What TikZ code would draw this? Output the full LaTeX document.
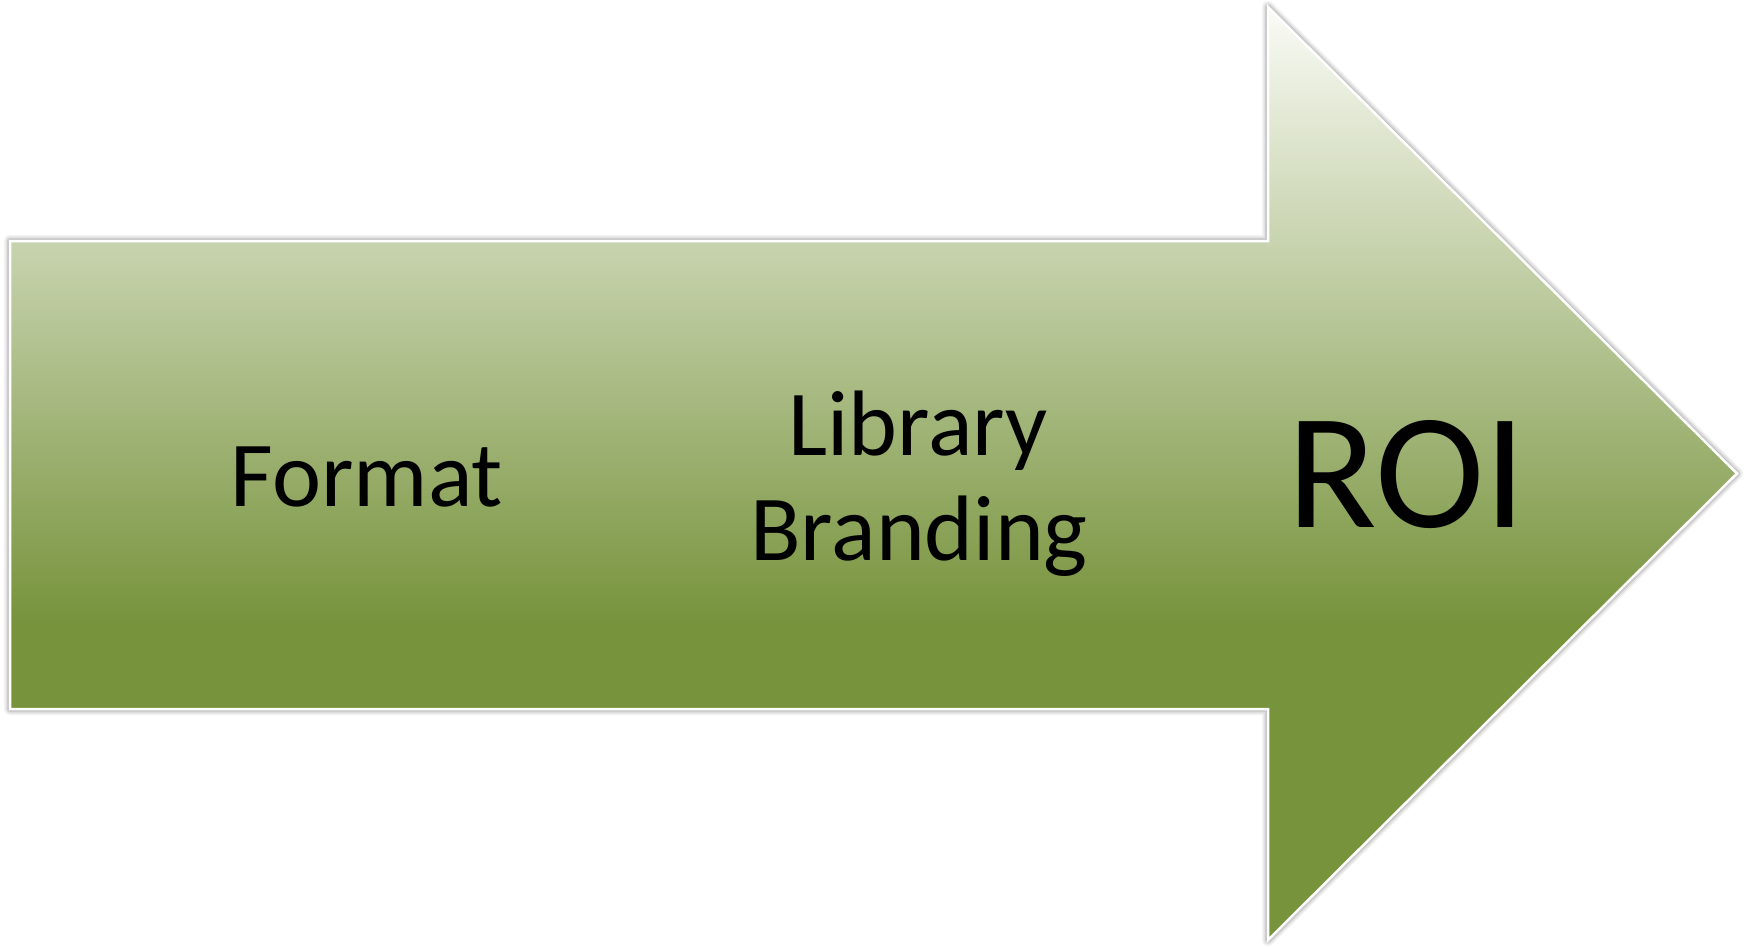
\documentclass[tikz,border=0pt]{standalone}
\usepackage{fontspec}
\setmainfont{Carlito}
\definecolor{olv}{RGB}{119,147,60}
\definecolor{toplt}{RGB}{250,251,246}
\pgfdeclareverticalshading{arrowshade}{100bp}{color(0bp)=(olv); color(42bp)=(olv); color(75bp)=(toplt); color(100bp)=(toplt)}
\begin{document}
\begin{tikzpicture}[x=1pt,y=-1pt,
  lbl/.style={font=\fontsize{93}{105}\selectfont, inner sep=0pt, text=black},
  biglbl/.style={font=\fontsize{165}{165}\selectfont, inner sep=0pt, text=black}]
\useasboundingbox (0,0) rectangle (1750,947);
\coordinate (A) at (10,241);
\coordinate (B) at (1268,241);
\coordinate (C) at (1268,7);
\coordinate (D) at (1737,473.5);
\coordinate (E) at (1268,940);
\coordinate (F) at (1268,709);
\coordinate (G) at (10,709);
% shadow
\foreach \w/\o in {12/0.05, 9/0.07, 6/0.09, 3/0.14}{
  \draw[line width=\w pt, black, opacity=\o, line join=round, shift={(1,4)}]
    (A) -- (B) -- (C) -- (D) -- (E) -- (F) -- (G) -- cycle;
}
% arrow body
\shade[shading=arrowshade, draw=white, line width=2.5pt, line join=miter]
  (A) -- (B) -- (C) -- (D) -- (E) -- (F) -- (G) -- cycle;
% labels
\node[lbl, anchor=base] (fmt) at (367,506) {Format};
\node[lbl, anchor=base] (lib) at (918,455) {Library};
\node[lbl, anchor=base] (brd) at (919,560) {Branding};
\node[biglbl, anchor=base] (roi) at (1407,527) {ROI};
\end{tikzpicture}
\end{document}
